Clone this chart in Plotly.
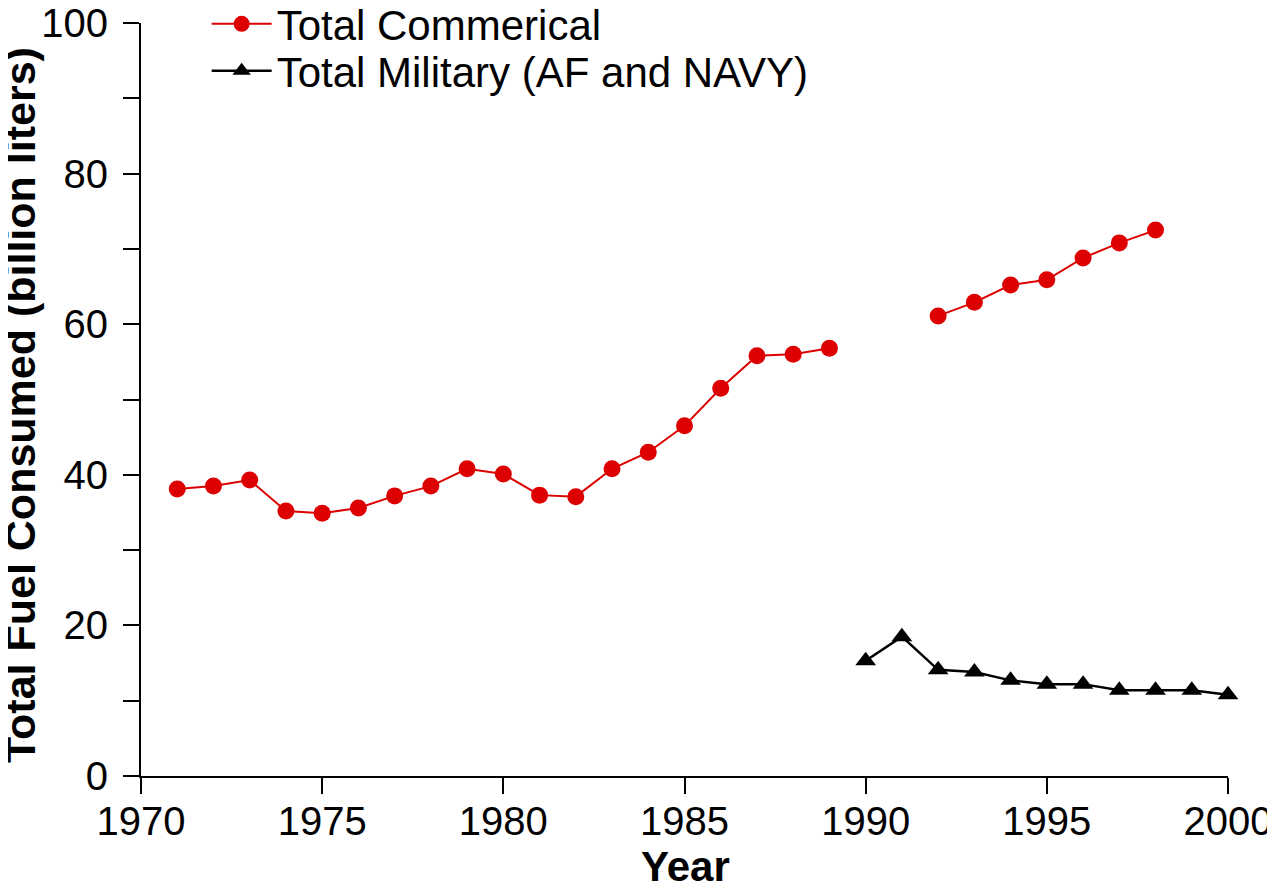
import plotly.graph_objects as go

years_com = [1971, 1972, 1973, 1974, 1975, 1976, 1977, 1978, 1979, 1980,
             1981, 1982, 1983, 1984, 1985, 1986, 1987, 1988, 1989, 1990,
             1991, 1992, 1993, 1994, 1995, 1996, 1997, 1998]
commercial = [38.1, 38.5, 39.3, 35.2, 34.9, 35.6, 37.2, 38.5, 40.8, 40.1,
              37.3, 37.1, 40.8, 43.0, 46.5, 51.5, 55.8, 56.0, 56.8, None,
              None, 61.1, 62.9, 65.2, 65.9, 68.8, 70.8, 72.5]

years_mil = [1990, 1991, 1992, 1993, 1994, 1995, 1996, 1997, 1998, 1999, 2000]
military = [15.3, 18.5, 14.1, 13.8, 12.7, 12.2, 12.2, 11.4, 11.4, 11.4, 10.8]

y_tickvals = [0, 10, 20, 30, 40, 50, 60, 70, 80, 90, 100]
y_ticktext = ["0", "", "20", "", "40", "", "60", "", "80", "", "100"]
x_tickvals = [1970, 1975, 1980, 1985, 1990, 1995, 2000]

FONT = "Liberation Sans, Arial, Helvetica, sans-serif"

# page body has an ~8px default margin, so figure is drawn 8px in from top-left
PLOT_L, PLOT_R, PLOT_T, PLOT_B = 141, 1228, 23, 776


def px_x(p):
    return (p - PLOT_L) / (PLOT_R - PLOT_L)


def px_y(p):
    return (PLOT_B - p) / (PLOT_B - PLOT_T)


fig = go.Figure()
fig.add_trace(go.Scatter(
    x=years_com, y=commercial, mode="lines+markers", name="Total Commerical",
    line=dict(color="#dd0000", width=2),
    marker=dict(symbol="circle", size=17, color="#dd0000"),
    connectgaps=False, cliponaxis=False, legend="legend"))
fig.add_trace(go.Scatter(
    x=years_mil, y=military, mode="lines+markers", name="Total Military (AF and NAVY)",
    line=dict(color="black", width=2.5),
    marker=dict(symbol="triangle-up", size=18, color="black"),
    cliponaxis=False, legend="legend2"))

leg_common = dict(xref="paper", yref="paper", xanchor="left", yanchor="middle",
                  bgcolor="rgba(0,0,0,0)", font=dict(size=42, family=FONT),
                  itemwidth=60)

fig.update_layout(
    width=1267, height=879,
    paper_bgcolor="white", plot_bgcolor="white",
    margin=dict(l=133, r=47, t=15, b=111, autoexpand=False),
    font=dict(family=FONT, size=34, color="black"),
    showlegend=True,
    legend=dict(x=0.0604, y=px_y(24), **leg_common),
    legend2=dict(x=0.0604, y=px_y(71), **leg_common),
    xaxis=dict(range=[1970, 2000], tickvals=x_tickvals, ticks="outside",
               ticklen=16, tickwidth=2, tickcolor="black",
               showline=True, linecolor="black", linewidth=2,
               showgrid=False, zeroline=False, automargin=False,
               ticklabeloverflow="allow",
               tickfont=dict(size=40, family=FONT), ticklabelstandoff=-7),
    yaxis=dict(range=[0, 100], tickvals=y_tickvals, ticktext=y_ticktext,
               ticks="outside", ticklen=16, tickwidth=2, tickcolor="black",
               showline=True, linecolor="black", linewidth=2,
               showgrid=False, zeroline=False, automargin=False,
               ticklabeloverflow="allow",
               tickfont=dict(size=40, family=FONT), ticklabelstandoff=7),
    annotations=[
        dict(text="<b>Year</b>", xref="paper", yref="paper",
             x=px_x(685), y=px_y(867),
             xanchor="center", yanchor="middle", showarrow=False,
             font=dict(size=42, family=FONT)),
        dict(text="<b>Total Fuel Consumed (billion liters)</b>", xref="paper", yref="paper",
             x=px_x(20), y=px_y(405), textangle=-90,
             xanchor="center", yanchor="middle", showarrow=False,
             font=dict(size=43, family=FONT)),
    ],
)

fig.write_html("out.html")
